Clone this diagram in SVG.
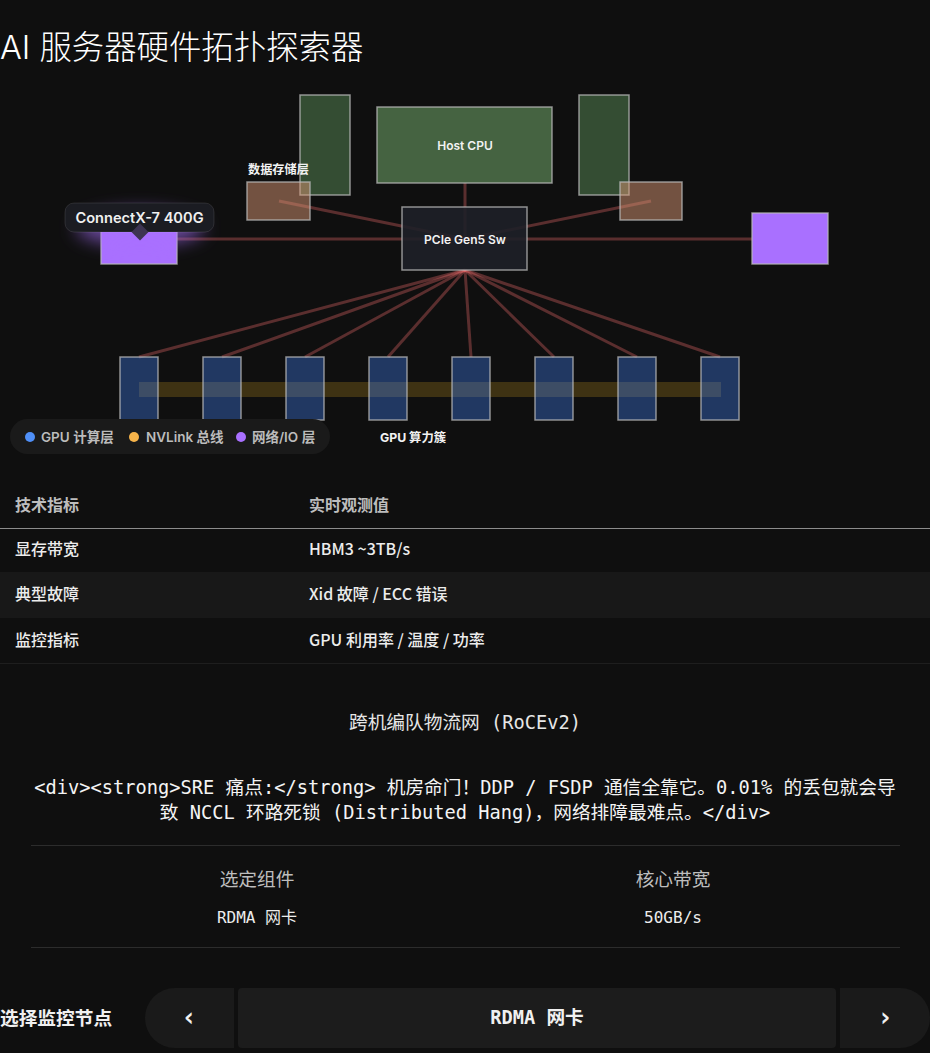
<svg xmlns="http://www.w3.org/2000/svg" width="930" height="1053" viewBox="0 0 930 1053">
<defs>
<style>
.sans{font-family:"Inter","Noto Sans CJK SC",sans-serif}
.cjk{font-family:"Noto Sans CJK SC","Noto Sans",sans-serif}
.mono{font-family:"DejaVu Sans Mono","Noto Sans CJK SC",monospace}
.node{stroke:#b8b8b8;stroke-opacity:0.75;stroke-width:1.5}
.mem{fill:#344d33}
.stor{fill:rgb(215,150,115);fill-opacity:0.5}
.gpu{fill:rgb(60,115,215);fill-opacity:0.42}
.nic{fill:#a970ff}
.lbl{font-size:12px;font-weight:600;fill:#f2f2f2;text-anchor:middle;dominant-baseline:central}
.link{stroke:rgb(248,113,113);stroke-opacity:0.32;stroke-width:3;fill:none}
.th{font-size:16px;font-weight:700;fill:#bdbdbd}
.td{font-size:16px;font-weight:500;fill:#ececec}
.leg{font-size:13.5px;font-weight:600;fill:#bcbcbc}
</style>
<filter id="glow" x="-50%" y="-100%" width="200%" height="300%"><feGaussianBlur stdDeviation="9"/></filter>
</defs>
<rect width="930" height="1053" fill="#0f0f0f"/>
<text x="0" y="59" class="sans" font-size="32.4" font-weight="300" fill="#ffffff">AI 服务器硬件拓扑探索器</text>

<g id="connectors">
<line class="link" x1="465" y1="145" x2="465" y2="239"/>
<line class="link" x1="139" y1="239" x2="790" y2="239"/>
<line class="link" x1="279" y1="201" x2="465" y2="239"/>
<line class="link" x1="651" y1="201" x2="465" y2="239"/>
<line class="link" x1="465" y1="270" x2="139" y2="357"/>
<line class="link" x1="465" y1="270" x2="222" y2="357"/>
<line class="link" x1="465" y1="270" x2="305" y2="357"/>
<line class="link" x1="465" y1="270" x2="388" y2="357"/>
<line class="link" x1="465" y1="270" x2="471" y2="357"/>
<line class="link" x1="465" y1="270" x2="554" y2="357"/>
<line class="link" x1="465" y1="270" x2="637" y2="357"/>
<line class="link" x1="465" y1="270" x2="720" y2="357"/>
<rect id="nvlink-bus" x="139" y="382" width="582" height="15" fill="#fbbf24" fill-opacity="0.2"/>
</g>

<g id="mem-left"><rect class="node mem" x="300" y="95" width="50" height="100"/></g>
<g id="mem-right"><rect class="node mem" x="579" y="95" width="50" height="100"/></g>
<g id="host-cpu"><rect class="node" x="377" y="107" width="175" height="76" fill="#456341"/><text class="sans lbl" x="465" y="145">Host CPU</text></g>
<g id="storage-left"><rect class="node stor" x="247" y="182" width="63" height="38"/></g>
<g id="storage-right"><rect class="node stor" x="620" y="182" width="62" height="38"/></g>
<text class="sans" x="248" y="174" font-size="12.2" font-weight="700" fill="#f2f2f2">数据存储层</text>
<g id="pcie-switch"><rect class="node" x="402" y="207" width="125" height="63" fill="#1e2028" fill-opacity="0.9"/><text class="sans lbl" x="465" y="239">PCIe Gen5 Sw</text></g>
<g id="nic-left"><rect class="node nic" x="101" y="213" width="76" height="51"/></g>
<g id="nic-right"><rect class="node nic" x="752" y="213" width="76" height="51"/></g>
<g id="gpus">
<rect class="node gpu" x="120" y="357" width="38" height="63"/>
<rect class="node gpu" x="203" y="357" width="38" height="63"/>
<rect class="node gpu" x="286" y="357" width="38" height="63"/>
<rect class="node gpu" x="369" y="357" width="38" height="63"/>
<rect class="node gpu" x="452" y="357" width="38" height="63"/>
<rect class="node gpu" x="535" y="357" width="38" height="63"/>
<rect class="node gpu" x="618" y="357" width="38" height="63"/>
<rect class="node gpu" x="701" y="357" width="38" height="63"/>
</g>
<text class="sans" x="380" y="441.5" font-size="12.3" font-weight="700" fill="#f2f2f2">GPU 算力簇</text>

<g id="legend">
<rect x="10" y="419" width="320" height="35" rx="17.5" fill="#1a1a1a"/>
<circle cx="30" cy="437" r="5" fill="#4f8ff7"/>
<text class="sans leg" x="41" y="441.5">GPU 计算层</text>
<circle cx="134" cy="437" r="5" fill="#f7b44a"/>
<text class="sans leg" x="146" y="441.5">NVLink 总线</text>
<circle cx="241" cy="437" r="5" fill="#a970ff"/>
<text class="sans leg" x="252" y="441.5">网络/IO 层</text>
</g>

<g id="tooltip">
<ellipse cx="140" cy="228" rx="64" ry="17" fill="#a970ff" opacity="0.6" filter="url(#glow)"/>
<rect x="65" y="203" width="149" height="29" rx="9" fill="#1b1c22" stroke="#ffffff" stroke-opacity="0.1"/>
<rect x="134" y="226" width="12" height="12" transform="rotate(45 140 232)" fill="#3d3452"/>
<text class="sans" x="139.5" y="217.5" font-size="14.6" font-weight="600" fill="#f0f0f0" text-anchor="middle" dominant-baseline="central">ConnectX-7 400G</text>
</g>

<g id="metrics-table">
<text class="cjk th" x="15" y="510.5">技术指标</text>
<text class="cjk th" x="309" y="510.5">实时观测值</text>
<line x1="0" y1="528.5" x2="930" y2="528.5" stroke="#8c8c8c" stroke-width="1"/>
<text class="cjk td" x="15" y="555">显存带宽</text>
<text class="cjk td" x="309" y="555">HBM3 ~3TB/s</text>
<rect x="0" y="572" width="930" height="46" fill="#181818"/>
<text class="cjk td" x="15" y="600">典型故障</text>
<text class="cjk td" x="309" y="600">Xid 故障 / ECC 错误</text>
<text class="cjk td" x="15" y="645.5">监控指标</text>
<text class="cjk td" x="309" y="645.5">GPU 利用率 / 温度 / 功率</text>
<line x1="0" y1="663.5" x2="930" y2="663.5" stroke="#1e1e1e" stroke-width="1"/>
</g>

<g id="detail" class="mono" text-anchor="middle" font-size="18.7">
<text x="465" y="729" fill="#e6e6e6">跨机编队物流网 (RoCEv2)</text>
<text x="465" y="794" fill="#f4f4f4">&lt;div&gt;&lt;strong&gt;SRE 痛点:&lt;/strong&gt; 机房命门！DDP / FSDP 通信全靠它。0.01% 的丢包就会导</text>
<text x="465" y="819" fill="#f4f4f4">致 NCCL 环路死锁 (Distributed Hang)，网络排障最难点。&lt;/div&gt;</text>
<line x1="31" y1="845.5" x2="900" y2="845.5" stroke="#2c2c2c"/>
<text x="257" y="886" fill="#bdbdbd">选定组件</text>
<text x="673" y="886" fill="#bdbdbd">核心带宽</text>
<text x="257" y="923" font-size="16" fill="#ececec">RDMA 网卡</text>
<text x="673" y="923" font-size="16" fill="#ececec">50GB/s</text>
<line x1="31" y1="947.5" x2="900" y2="947.5" stroke="#2c2c2c"/>
</g>

<g id="node-selector">
<text class="mono" x="0" y="1025" font-size="18.7" font-weight="700" fill="#f0f0f0">选择监控节点</text>
<path d="M175 988 H234 V1048 H175 A30 30 0 0 1 175 988 Z" fill="#1a1a1a"/>
<rect x="238" y="988" width="598" height="60" rx="4" fill="#1c1c1c"/>
<path d="M840 988 H900 A30 30 0 0 1 900 1048 H840 Z" fill="#1a1a1a"/>
<text class="mono" x="189" y="1026" font-size="26" font-weight="700" fill="#f0f0f0" text-anchor="middle">‹</text>
<text class="mono" x="537" y="1024" font-size="18.7" font-weight="700" fill="#f0f0f0" text-anchor="middle">RDMA 网卡</text>
<text class="mono" x="885" y="1026" font-size="26" font-weight="700" fill="#f0f0f0" text-anchor="middle">›</text>
</g>
</svg>
